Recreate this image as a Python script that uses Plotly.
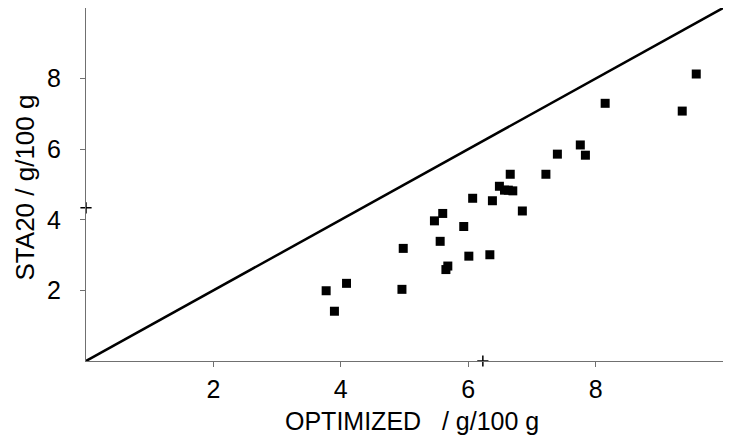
import plotly.graph_objects as go

# measured values (g/100 g)
optimized = [3.77, 3.90, 4.09, 4.96, 4.98, 5.47, 5.56, 5.60, 5.65, 5.68,
             5.93, 6.01, 6.07, 6.34, 6.38, 6.49, 6.57, 6.63, 6.66, 6.70,
             6.85, 7.22, 7.40, 7.76, 7.84, 8.15, 9.36, 9.58]
sta20 = [1.99, 1.41, 2.20, 2.03, 3.19, 3.97, 3.39, 4.18, 2.59, 2.69,
         3.81, 2.97, 4.61, 3.01, 4.54, 4.95, 4.84, 4.84, 5.29, 4.82,
         4.25, 5.29, 5.86, 6.12, 5.83, 7.30, 7.08, 8.13]

identity_line = [0, 10]

# mean markers on the axes
mean_x = [0, 6.23]
mean_y = [4.34, 0]

tick_vals = [2, 4, 6, 8]

fig = go.Figure()

fig.add_trace(go.Scatter(
    x=identity_line,
    y=identity_line,
    mode='lines',
    line=dict(color='black', width=2.5),
    showlegend=False,
))

fig.add_trace(go.Scatter(
    x=optimized,
    y=sta20,
    mode='markers',
    marker=dict(symbol='square', size=9, color='black'),
    showlegend=False,
))

fig.add_trace(go.Scatter(
    x=mean_x,
    y=mean_y,
    mode='markers',
    marker=dict(symbol='cross-thin', size=8, line=dict(color='black', width=1.5)),
    cliponaxis=False,
    showlegend=False,
))

# page body has an 8px margin, so the figure is sized to fit inside it
fig.update_layout(
    width=723,
    height=432,
    paper_bgcolor='white',
    plot_bgcolor='white',
    font=dict(family="Liberation Sans, Arial, sans-serif", size=25, color='black'),
    margin=dict(l=78, r=8, t=0, b=79),
)

axis_style = dict(
    range=[0, 10],
    tickvals=tick_vals,
    ticks='outside',
    ticklen=5,
    tickcolor='#707070',
    showline=True,
    linecolor='#707070',
    linewidth=1,
    mirror=True,
    showgrid=False,
    zeroline=False,
    automargin=False,
)

fig.update_xaxes(**axis_style, ticklabelstandoff=1)
fig.update_yaxes(**axis_style, ticklabelstandoff=14)

# axis titles placed as annotations so they sit where the original has them
fig.add_annotation(
    text="OPTIMIZED &nbsp;&nbsp;/ g/100 g",
    xref='paper', yref='paper', x=0.5, y=0,
    xanchor='center', yanchor='middle',
    xshift=7, yshift=-60,
    showarrow=False,
    font=dict(size=25),
)
fig.add_annotation(
    text="STA20 / g/100 g",
    xref='paper', yref='paper', x=0, y=0.5,
    xanchor='center', yanchor='middle',
    xshift=-62, yshift=-3,
    textangle=-90,
    showarrow=False,
    font=dict(size=26),
)

fig.write_html("out.html")
